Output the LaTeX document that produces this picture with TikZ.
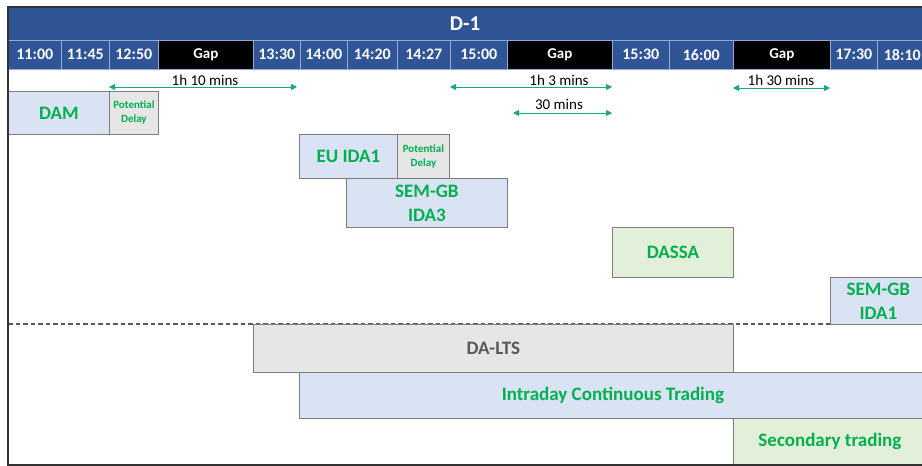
\documentclass[tikz,border=0pt]{standalone}
\usepackage{fontspec}
\setmainfont{Carlito}
\usetikzlibrary{arrows.meta}

\definecolor{headblue}{RGB}{47,85,151}
\definecolor{sepline}{RGB}{150,170,205}
\definecolor{fillblue}{RGB}{218,227,243}
\definecolor{fillgray}{RGB}{231,230,230}
\definecolor{fillgreen}{RGB}{226,240,217}
\definecolor{labgreen}{RGB}{0,176,80}
\definecolor{spanteal}{RGB}{22,168,128}
\definecolor{edgegray}{RGB}{125,125,125}
\definecolor{ltsgray}{RGB}{89,89,89}

\tikzset{
  timecell/.style={draw=sepline, line width=0.6pt, fill=headblue, text=white,
    font=\bfseries\fontsize{16}{16}\selectfont, inner sep=0pt, anchor=north west,
    minimum height=29pt},
  gapcell/.style={timecell, fill=black, draw=sepline, font=\bfseries\fontsize{15}{15}\selectfont},
  phase/.style={draw=edgegray, line width=0.8pt, anchor=north west, inner sep=0pt,
    text=labgreen, align=center,
    font=\bfseries\fontsize{19}{24}\selectfont},
  bluephase/.style={phase, fill=fillblue},
  greenphase/.style={phase, fill=fillgreen},
  grayphase/.style={phase, fill=fillgray},
  delaybox/.style={grayphase, font=\bfseries\fontsize{11}{14}\selectfont},
  span/.style={draw=spanteal, line width=0.9pt,
    {Triangle[length=6pt,width=6pt]}-{Triangle[length=6pt,width=6pt]}},
  spanlabel/.style={font=\fontsize{15}{15}\selectfont, text=black, inner sep=0pt}
}

\begin{document}
\begin{tikzpicture}[x=1pt,y=-1pt]
\useasboundingbox (0,0) rectangle (922,466);
\fill[white] (0,0) rectangle (922,466);

% title band
\fill[headblue] (8,7) rectangle (922,40);
\node[text=white, font=\bfseries\fontsize{21}{21}\selectfont] (title) at (465,24) {D-1};

% time scale
\node[timecell, minimum width=53pt] (t1100) at (8,40) {11:00};
\node[timecell, minimum width=48pt] (t1145) at (61,40) {11:45};
\node[timecell, minimum width=49pt] (t1250) at (109,40) {12:50};
\node[gapcell,  minimum width=95pt] (gap1)  at (158,40) {Gap};
\node[timecell, minimum width=47pt] (t1330) at (253,40) {13:30};
\node[timecell, minimum width=47pt] (t1400) at (300,40) {14:00};
\node[timecell, minimum width=50pt] (t1420) at (347,40) {14:20};
\node[timecell, minimum width=53pt] (t1427) at (397,40) {14:27};
\node[timecell, minimum width=57pt] (t1500) at (450,40) {15:00};
\node[gapcell,  minimum width=105pt] (gap2) at (507,40) {Gap};
\node[timecell, minimum width=57pt] (t1530) at (612,40) {15:30};
\node[timecell, minimum width=64pt] (t1600) at (669,40) {16:00};
\node[gapcell,  minimum width=97pt] (gap3)  at (733,40) {Gap};
\node[timecell, minimum width=47pt] (t1730) at (830,40) {17:30};
\node[timecell, minimum width=50pt] (t1810) at (877,40) {18:10};

% durations between events
\coordinate (s1a) at (109,87);  \coordinate (s1b) at (297,87);
\coordinate (s2a) at (450,87);  \coordinate (s2b) at (612,87);
\coordinate (s3a) at (513,113); \coordinate (s3b) at (612,113);
\coordinate (s4a) at (733,88);  \coordinate (s4b) at (830,88);
\draw[span] (s1a) -- (s1b);
\draw[span] (s2a) -- (s2b);
\draw[span] (s3a) -- (s3b);
\draw[span] (s4a) -- (s4b);
\node[spanlabel] (l1) at (205,80) {1h 10 mins};
\node[spanlabel] (l2) at (559,80) {1h 3 mins};
\node[spanlabel] (l3) at (559,104) {30 mins};
\node[spanlabel] (l4) at (781,80) {1h 30 mins};

% divider between auctions and continuous phases
\draw[dash pattern=on 4.5pt off 3pt, draw=black!65, line width=1.5pt] (8,324) -- (922,324);

% auction phases
\node[bluephase, minimum width=101pt, minimum height=43pt] (dam) at (8,91) {DAM};
\node[delaybox, minimum width=49pt, minimum height=43pt] (damdelay) at (109,91) {Potential\\Delay};
\node[bluephase, minimum width=98pt, minimum height=44pt] (euida1) at (299,134) {EU IDA1};
\node[delaybox, minimum width=52pt, minimum height=44pt] (euidadelay) at (397,134) {Potential\\Delay};
\node[bluephase, minimum width=161pt, minimum height=49pt] (semida3) at (346,178) {SEM-GB\\IDA3};
\node[greenphase, minimum width=121pt, minimum height=50pt] (dassa) at (612,227) {DASSA};
\node[bluephase, minimum width=96pt, minimum height=47pt] (semida1) at (830,277) {SEM-GB\\IDA1};

% continuous phases
\node[grayphase, text=ltsgray, minimum width=480pt, minimum height=48pt] (dalts) at (253,324) {DA-LTS};
\node[bluephase, minimum width=627pt, minimum height=46pt] (idc) at (299,372) {Intraday Continuous Trading};
\node[greenphase, minimum width=193pt, minimum height=47pt] (sec) at (733,418) {Secondary trading};

% frame
\draw[draw=black!80, line width=1.4pt] (922,7) -- (8,7) -- (8,465) -- (922,465);
\end{tikzpicture}
\end{document}
